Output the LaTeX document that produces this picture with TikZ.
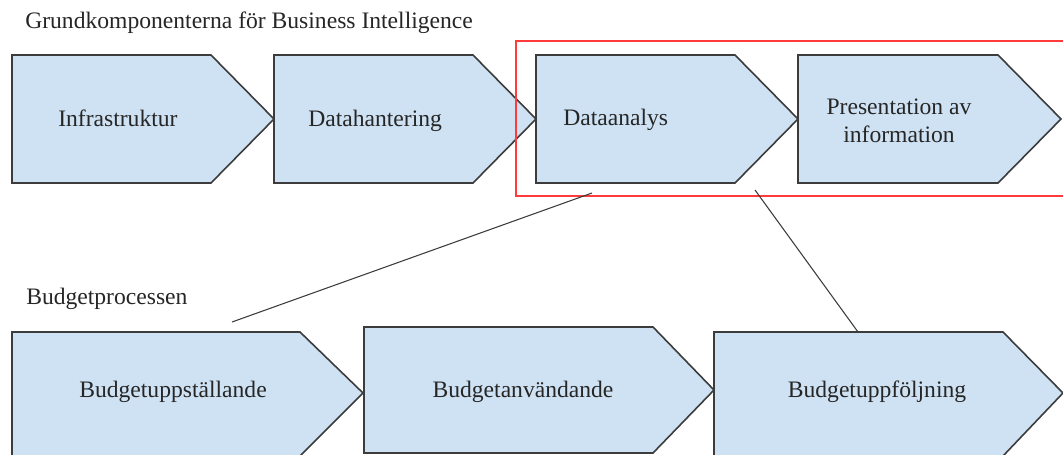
\documentclass[tikz,border=0pt]{standalone}
\usepackage{fontspec}
\setmainfont{Liberation Serif}
\definecolor{chevfill}{HTML}{CFE2F3}
\definecolor{chevline}{HTML}{3C3C3C}
\definecolor{markred}{HTML}{FF3B3B}

\begin{document}
\begin{tikzpicture}[x=0.75pt,y=-0.75pt,
  chev/.style={fill=chevfill,draw=chevline,line width=1.2pt,line join=miter},
  txt/.style={font=\fontsize{17.7}{21}\selectfont,text=black!85,inner sep=0pt},
  link/.style={draw=chevline,line width=0.8pt}]
\useasboundingbox (0,0) rectangle (1063,454);

\node[txt,anchor=base west] at (25,28) (title1) {Grundkomponenterna för Business Intelligence};

\draw[chev] (12,55) -- (211,55) -- (274,119) -- (211,183) -- (12,183) -- cycle;
\draw[chev] (274,55) -- (473,55) -- (536,119) -- (473,183) -- (274,183) -- cycle;
\draw[chev] (536,55) -- (735,55) -- (798,119) -- (735,183) -- (536,183) -- cycle;
\draw[chev] (798,55) -- (998,55) -- (1061,119) -- (998,183) -- (798,183) -- cycle;

\node[txt,anchor=base west] at (58,126) (infra) {Infrastruktur};
\node[txt,anchor=base west] at (308,126) (datah) {Datahantering};
\node[txt,anchor=base west] at (563,125) (dataa) {Dataanalys};
\node[txt,align=center] at (899,121) (pres) {Presentation av\\information};

\draw[markred,line width=1pt] (1070,41) -- (516,41) -- (516,196) -- (1070,196);

\node[txt,anchor=base west] at (26,304) (title2) {Budgetprocessen};

\draw[chev] (12,332) -- (300,332) -- (363,393) -- (300,456) -- (12,456) -- cycle;
\draw[chev] (364,327) -- (653,327) -- (714,390) -- (653,453) -- (364,453) -- cycle;
\draw[chev] (714,332) -- (1003,332) -- (1063,393) -- (1003,456) -- (714,456) -- cycle;

\node[txt,anchor=base] at (173,397) (bstall) {Budgetuppställande};
\node[txt,anchor=base] at (523,397) (banv) {Budgetanvändande};
\node[txt,anchor=base] at (877,397) (bfolj) {Budgetuppföljning};

\coordinate (a1) at (592,193);
\coordinate (a2) at (232,322);
\coordinate (p1) at (755,190);
\coordinate (p2) at (858,332);

\draw[link] (a1) -- (a2);
\draw[link] (p1) -- (p2);
\end{tikzpicture}
\end{document}
